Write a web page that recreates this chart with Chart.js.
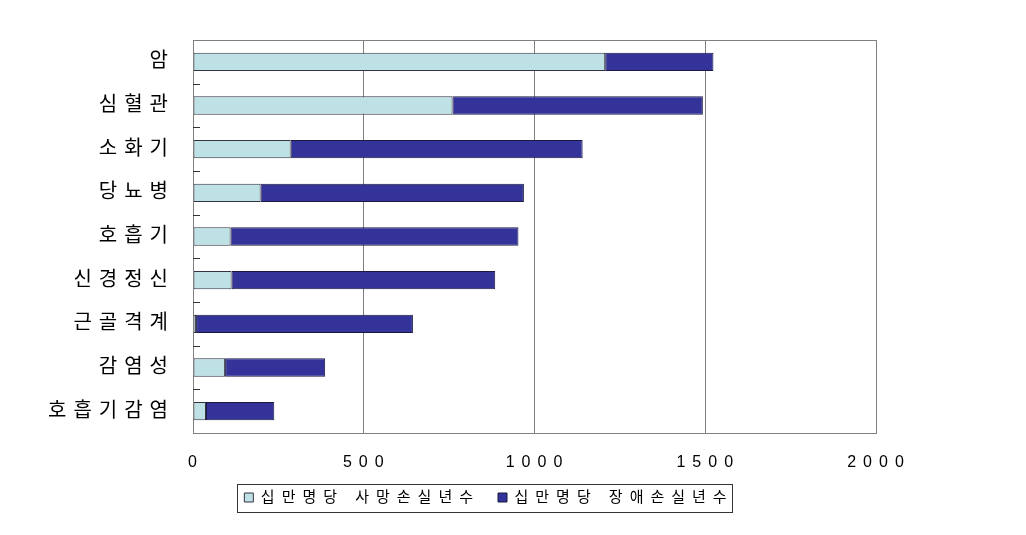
<!DOCTYPE html>
<html lang="ko">
<head>
<meta charset="utf-8">
<script src="https://cdn.jsdelivr.net/npm/chart.js@4"></script>
<style>
  html, body { margin: 0; padding: 0; background: #fff; }
  #wrap { width: 1026px; height: 535px; }
</style>
</head>
<body>
<div id="wrap"><canvas id="chart"></canvas></div>
<script>
// data
const categories = ['암', '심혈관', '소화기', '당뇨병', '호흡기', '신경정신', '근골격계', '감염성', '호흡기감염'];
const deathYears = [1207, 760, 286, 198, 110, 113, 9, 94, 38];
const disabilityYears = [317, 733, 855, 771, 843, 772, 635, 293, 200];
const seriesNames = ['십만명당 사망손실년수', '십만명당 장애손실년수'];
const xTicks = [0, 500, 1000, 1500, 2000];

const FONT = "'Liberation Sans', 'Noto Sans CJK KR', sans-serif";
const SPACING = '7px';

// the original text is spaced out wide
const letterSpacing = {
    id: 'letterSpacing',
    beforeLayout(chart) { chart.ctx.letterSpacing = SPACING; },
    beforeDraw(chart) { chart.ctx.letterSpacing = SPACING; }
};

// legend sits a bit left of the plot centre, like the original
const legendPlace = {
    id: 'legendPlace',
    afterLayout(chart) {
        const lg = chart.legend;
        lg.left = 102;
        lg.right = chart.chartArea.right;
        lg.width = lg.right - lg.left;
    }
};

// frame around the plot + little ticks between categories
const plotFrame = {
    id: 'plotFrame',
    afterDraw(chart) {
        const { ctx, chartArea: a, scales: { y } } = chart;
        ctx.save();
        ctx.strokeStyle = '#808080';
        ctx.lineWidth = 1;
        ctx.strokeRect(Math.round(a.left) + 0.5, Math.round(a.top) + 0.5,
            Math.round(a.right - a.left), Math.round(a.bottom - a.top));
        ctx.strokeStyle = '#333';
        for (let i = 1; i < categories.length; i++) {
            const py = Math.round((y.getPixelForValue(i - 1) + y.getPixelForValue(i)) / 2) + 0.5;
            ctx.beginPath();
            ctx.moveTo(a.left, py);
            ctx.lineTo(a.left + 7, py);
            ctx.stroke();
        }
        ctx.restore();
    }
};

// box drawn round the legend
const legendFrame = {
    id: 'legendFrame',
    afterDraw(chart) {
        const boxes = chart.legend.legendHitBoxes;
        if (!boxes || !boxes.length) return;
        const left = Math.min(...boxes.map(b => b.left)) - 7;
        const right = Math.max(...boxes.map(b => b.left + b.width)) - 1;
        const top = Math.min(...boxes.map(b => b.top)) - 6;
        const bottom = Math.max(...boxes.map(b => b.top + b.height)) + 7;
        const ctx = chart.ctx;
        ctx.save();
        ctx.strokeStyle = '#333';
        ctx.lineWidth = 1;
        ctx.strokeRect(Math.round(left) + 0.5, Math.round(top) + 0.5, Math.round(right - left), Math.round(bottom - top));
        ctx.restore();
    }
};

new Chart(document.getElementById('chart'), {
    type: 'bar',
    data: {
        labels: categories,
        datasets: [
            {
                label: seriesNames[0],
                data: deathYears,
                backgroundColor: '#BDE1E4',
                borderColor: '#333344',
                borderWidth: 1,
                borderSkipped: false,
                barPercentage: 1,
                categoryPercentage: 0.42
            },
            {
                label: seriesNames[1],
                data: disabilityYears,
                backgroundColor: '#333399',
                borderColor: '#1a1a40',
                borderWidth: 1,
                borderSkipped: false,
                barPercentage: 1,
                categoryPercentage: 0.42
            }
        ]
    },
    options: {
        indexAxis: 'y',
        responsive: true,
        maintainAspectRatio: false,
        animation: false,
        layout: { padding: { left: 20, right: 150, top: 40, bottom: 20 } },
        scales: {
            x: {
                stacked: true,
                min: 0,
                max: 2000,
                afterBuildTicks(scale) { scale.ticks = xTicks.map(v => ({ value: v })); },
                afterFit(scale) { scale.height = 39; },
                grid: { color: '#808080', drawTicks: false },
                border: { color: '#808080' },
                ticks: {
                    color: '#000',
                    padding: 20,
                    labelOffset: 3,
                    font: { family: FONT, size: 16 },
                    callback: v => String(v)
                }
            },
            y: {
                stacked: true,
                afterFit(scale) { scale.width = 173; },
                grid: { display: false },
                border: { color: '#808080' },
                ticks: { color: '#000', padding: 10, font: { family: FONT, size: 20 } }
            }
        },
        plugins: {
            legend: {
                position: 'bottom',
                labels: {
                    color: '#000',
                    boxWidth: 9,
                    boxHeight: 9,
                    padding: 18,
                    font: { family: FONT, size: 15 }
                }
            },
            tooltip: { enabled: false }
        }
    },
    plugins: [letterSpacing, legendPlace, plotFrame, legendFrame]
});
</script>
</body>
</html>
